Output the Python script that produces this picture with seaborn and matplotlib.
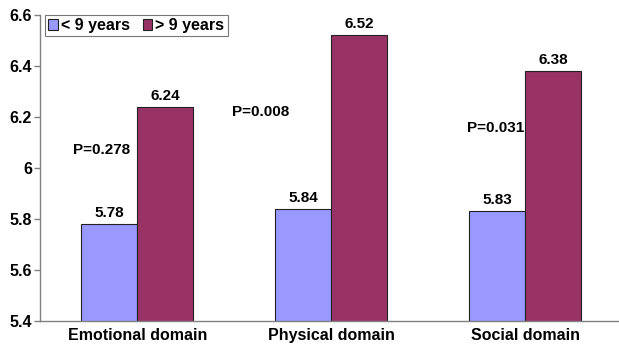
import matplotlib
matplotlib.use("Agg")
import matplotlib.pyplot as plt
import seaborn as sns
import pandas as pd

domains = ["Emotional domain", "Physical domain", "Social domain"]
groups = ["< 9 years", "> 9 years"]
under_9 = [5.78, 5.84, 5.83]
over_9 = [6.24, 6.52, 6.38]
p_labels = ["P=0.278", "P=0.008", "P=0.031"]
p_heights = [6.07, 6.22, 6.157]
p_offsets = [-0.034, -0.216, -0.005]
y_ticks = [5.4, 5.6, 5.8, 6.0, 6.2, 6.4, 6.6]
y_tick_labels = ["5.4", "5.6", "5.8", "6", "6.2", "6.4", "6.6"]

df = pd.DataFrame({
    "domain": domains * 2,
    "group": [groups[0]] * 3 + [groups[1]] * 3,
    "score": under_9 + over_9,
})

sns.set_style("white")
plt.rcParams["font.family"] = ["Liberation Sans", "DejaVu Sans"]
plt.rcParams["font.weight"] = "bold"
plt.rcParams["text.color"] = "black"
plt.rcParams["xtick.labelcolor"] = "black"
plt.rcParams["ytick.labelcolor"] = "black"

fig = plt.figure(figsize=(6.19, 3.48), dpi=100)
ax = fig.add_axes([0.065, 0.078, 0.94, 0.879])

palette = {groups[0]: "#9999FF", groups[1]: "#993366"}
sns.barplot(data=df, x="domain", y="score", hue="group", order=domains,
            hue_order=groups, palette=palette, width=0.577, gap=0,
            edgecolor="#222222", linewidth=0.8, saturation=1, ax=ax)

for cont in ax.containers:
    ax.bar_label(cont, fmt="%.2f", padding=3, fontsize=11, fontweight="bold",
                 color="black")

for i, (lab, h, off) in enumerate(zip(p_labels, p_heights, p_offsets)):
    ax.text(i + off, h, lab, ha="right", va="center", fontsize=11,
            fontweight="bold", color="black")

ax.set_ylim(5.4, 6.6)
ax.set_xlim(-0.5, 2.5)
ax.set_yticks(y_ticks)
ax.set_yticklabels(y_tick_labels, fontsize=11.5, fontweight="bold")
ax.set_xticks([0.5, 1.5], minor=True)
ax.set_xticks([0, 1, 2])
ax.set_xticklabels(domains, fontsize=11.5, fontweight="bold")
ax.tick_params(axis="x", which="major", length=0, pad=5)
ax.tick_params(axis="x", which="minor", direction="in", length=4,
               color="#808080", width=1)
ax.tick_params(axis="y", direction="out", length=4, color="#808080",
               width=1, pad=2, left=True)
ax.set_xlabel("")
ax.set_ylabel("")
for side in ["top", "right"]:
    ax.spines[side].set_visible(False)
for side in ["left", "bottom"]:
    ax.spines[side].set_color("#808080")
    ax.spines[side].set_linewidth(1)

leg = ax.legend(loc="upper left", bbox_to_anchor=(0.008, 1.0), ncol=2,
                frameon=True, fancybox=False, fontsize=11.5,
                handlelength=0.6, handleheight=0.6, handletextpad=0.2,
                columnspacing=0.8, borderpad=0.2, borderaxespad=0)
leg.get_frame().set_edgecolor("#555555")
leg.get_frame().set_linewidth(0.8)
for t in leg.get_texts():
    t.set_fontweight("bold")
    t.set_color("black")

fig.savefig("out.png", dpi=100)
